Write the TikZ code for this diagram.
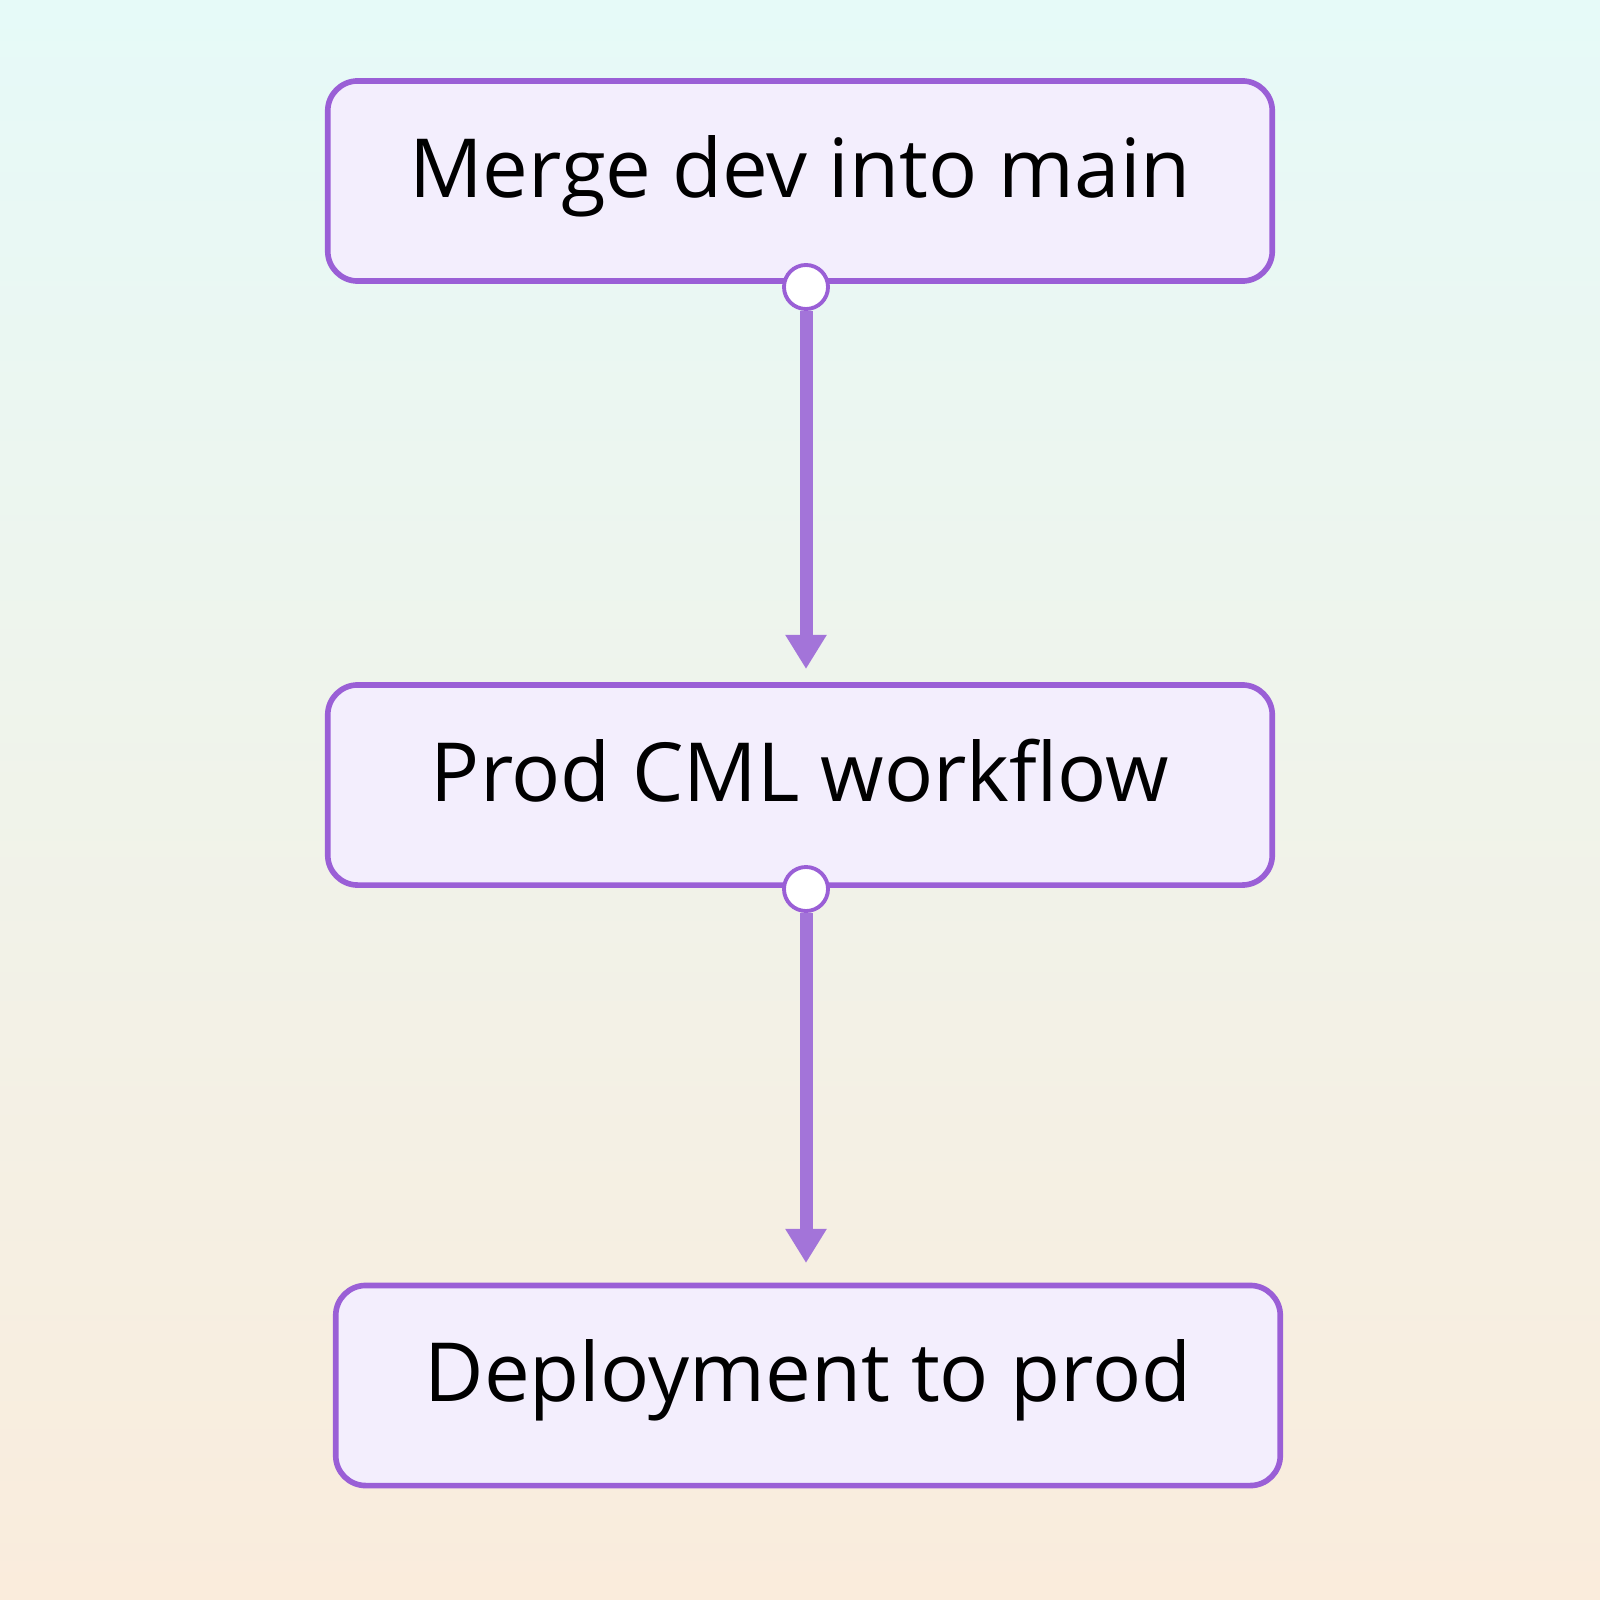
\documentclass[tikz,border=0pt]{standalone}
\usepackage{fontspec}
\setmainfont{Open Sans}
\usetikzlibrary{arrows.meta}

\definecolor{bgtop}{HTML}{E6FAF8}
\definecolor{bgbot}{HTML}{FAECDC}
\definecolor{boxfill}{HTML}{F3EEFD}
\definecolor{boxline}{HTML}{9A5FD6}
\definecolor{linkcol}{HTML}{A374D9}

\tikzset{
	stepnode/.style={draw=boxline, fill=boxfill, line width=1.6pt, rounded corners=0.3cm,
		minimum width=9.44cm, minimum height=2cm, inner sep=0pt,
		font=\fontsize{23.2}{27}\selectfont, text height=1.0em, text depth=0.07em},
	port/.style={circle, draw=boxline, fill=white, line width=1.1pt, minimum size=0.44cm, inner sep=0pt},
	link/.style={draw=linkcol, line width=3.7pt, -{Triangle[length=9.7pt, width=11.1pt]}}
}

\begin{document}
\begin{tikzpicture}[x=0.01cm, y=-0.01cm]
			%%%%% START %%%%%
			
			\shade[top color=bgtop, bottom color=bgbot] (0, 0) rectangle (1600, 1600);
			\useasboundingbox (0, 0) rectangle (1600, 1600);
			
			\node[stepnode] (merge) at (800, 181) {Merge dev into main};
			\node[stepnode] (prodcml) at (800, 785) {Prod CML workflow};
			\node[stepnode] (deploy) at (808, 1385.5) {Deployment to prod};
			
			\coordinate (tip1) at (806, 669);
			\coordinate (tip2) at (806, 1263);
			
			\node[port] (port1) at (806, 287) {};
			\node[port] (port2) at (806, 889) {};
			
			\draw[link] (port1) -- (tip1);
			\draw[link] (port2) -- (tip2);
			
			%%%%% END %%%%%
		\end{tikzpicture}
\end{document}
